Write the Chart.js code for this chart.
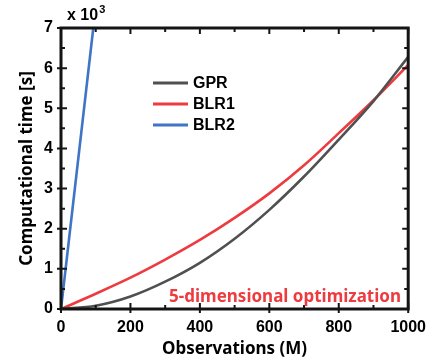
<!DOCTYPE html>
<html>
<head>
<meta charset="utf-8">
<script src="https://cdn.jsdelivr.net/npm/chart.js@4"></script>
<style>
html,body{margin:0;padding:0;background:#fff;}
#wrap{width:435px;height:360px;position:relative;}
</style>
</head>
<body>
<div id="wrap"><canvas id="c" width="435" height="360"></canvas></div>
<script>
const observations = [0, 100, 200, 300, 400, 500, 600, 700, 800, 900, 1000];
const gprTime  = [0, 0.08, 0.31, 0.68, 1.15, 1.75, 2.47, 3.3, 4.22, 5.18, 6.28];
const blr1Time = [0, 0.38, 0.78, 1.23, 1.72, 2.27, 2.88, 3.58, 4.38, 5.2, 6.08];
const blr2Obs  = [0, 93];
const blr2Time = [0, 7];
const xTicks = [0, 200, 400, 600, 800, 1000];
const yTicks = [0, 1, 2, 3, 4, 5, 6, 7];
const seriesNames = ['GPR', 'BLR1', 'BLR2'];
const seriesColors = ['#505050', '#ee3b3f', '#3f74c6'];
const noteText = '5-dimensional optimization';
const frameColor = 'rgb(20,20,20)';

const toXY = (xs, ys) => xs.map((x, i) => ({x: x, y: ys[i]}));

const frameAndTicks = {
  id: 'frameAndTicks',
  afterDraw(chart) {
    const ctx = chart.ctx;
    const xs = chart.scales.x, ys = chart.scales.y;
    const L = xs.getPixelForValue(0), R = xs.getPixelForValue(1000);
    const B = ys.getPixelForValue(0), T = ys.getPixelForValue(7);
    ctx.save();
    ctx.strokeStyle = frameColor;
    ctx.lineWidth = 2;
    ctx.beginPath();
    for (let v = 0; v <= 1000; v += 100) {
      const px = xs.getPixelForValue(v);
      const major = (v % 200 === 0);
      const len = major ? 6 : 4;
      ctx.moveTo(px, B); ctx.lineTo(px, B - len);
      ctx.moveTo(px, T); ctx.lineTo(px, T + len);
      if (major) { ctx.moveTo(px, B); ctx.lineTo(px, B + 4); }
    }
    for (let i = 0; i <= 14; i++) {
      const py = ys.getPixelForValue(i / 2);
      const major = (i % 2 === 0);
      const len = major ? 6 : 4;
      ctx.moveTo(L, py); ctx.lineTo(L + len, py);
      ctx.moveTo(R, py); ctx.lineTo(R - len, py);
      if (major) { ctx.moveTo(L, py); ctx.lineTo(L - 4, py); }
    }
    ctx.stroke();
    ctx.lineWidth = 3;
    ctx.strokeRect(L, T, R - L, B - T);

    // legend
    ctx.font = 'bold 16px "Liberation Sans", Arial, sans-serif';
    ctx.textBaseline = 'middle';
    ctx.textAlign = 'left';
    const rows = [83, 104, 125];
    chart.data.datasets.forEach((ds, i) => {
      ctx.fillStyle = ds.borderColor;
      ctx.fillRect(153, rows[i] - 1.5, 35, 3);
      ctx.fillStyle = '#000';
      ctx.fillText(ds.label, 193, rows[i] + 1);
    });

    // note
    ctx.font = 'bold 17px "Noto Sans", "Open Sans", sans-serif';
    ctx.fillStyle = '#ee3b3f';
    ctx.textAlign = 'right';
    ctx.fillText(noteText, 401, 297);

    // exponent label
    ctx.fillStyle = '#000';
    ctx.textAlign = 'left';
    ctx.font = 'bold 16px "Liberation Sans", Arial, sans-serif';
    ctx.fillText('x 10', 67, 16);
    const w = ctx.measureText('x 10').width;
    ctx.font = 'bold 11px "Liberation Sans", Arial, sans-serif';
    ctx.fillText('3', 67 + w + 1, 10);
    ctx.restore();
  }
};

new Chart(document.getElementById('c'), {
  type: 'line',
  data: {
    datasets: [
      {label: seriesNames[0], data: toXY(observations, gprTime), borderColor: seriesColors[0], borderWidth: 2.6, pointRadius: 0, tension: 0.4, cubicInterpolationMode: 'monotone'},
      {label: seriesNames[1], data: toXY(observations, blr1Time), borderColor: seriesColors[1], borderWidth: 2.6, pointRadius: 0, tension: 0.4, cubicInterpolationMode: 'monotone'},
      {label: seriesNames[2], data: toXY(blr2Obs, blr2Time), borderColor: seriesColors[2], borderWidth: 2.6, pointRadius: 0, tension: 0}
    ]
  },
  options: {
    responsive: false,
    animation: false,
    layout: {padding: {left: 17, right: 21, top: 28, bottom: 0}},
    plugins: {legend: {display: false}, tooltip: {enabled: false}},
    scales: {
      x: {
        type: 'linear', min: 0, max: 1000,
        afterBuildTicks: s => { s.ticks = xTicks.map(v => ({value: v})); },
        grid: {display: false, drawTicks: false},
        border: {display: false},
        ticks: {color: '#000', padding: 9, maxRotation: 0, callback: v => String(v), font: {family: '"Liberation Sans", Arial, sans-serif', size: 16, weight: 'bold'}},
        title: {display: true, text: 'Observations (M)', color: '#000', padding: {top: 0, bottom: 1}, font: {family: '"Noto Sans", "Open Sans", sans-serif', size: 17, weight: 'bold'}},
        afterFit: s => { s.height = 51; }
      },
      y: {
        type: 'linear', min: 0, max: 7,
        afterBuildTicks: s => { s.ticks = yTicks.map(v => ({value: v})); },
        grid: {display: false, drawTicks: false},
        border: {display: false},
        ticks: {color: '#000', padding: 8, callback: v => String(v), font: {family: '"Liberation Sans", Arial, sans-serif', size: 16, weight: 'bold'}},
        title: {display: true, text: 'Computational time [s]', color: '#000', padding: {top: 0, bottom: 0}, font: {family: '"Noto Sans", "Open Sans", sans-serif', size: 17, weight: 'bold'}},
        afterFit: s => { s.width = 44; }
      }
    }
  },
  plugins: [frameAndTicks]
});
</script>
</body>
</html>
